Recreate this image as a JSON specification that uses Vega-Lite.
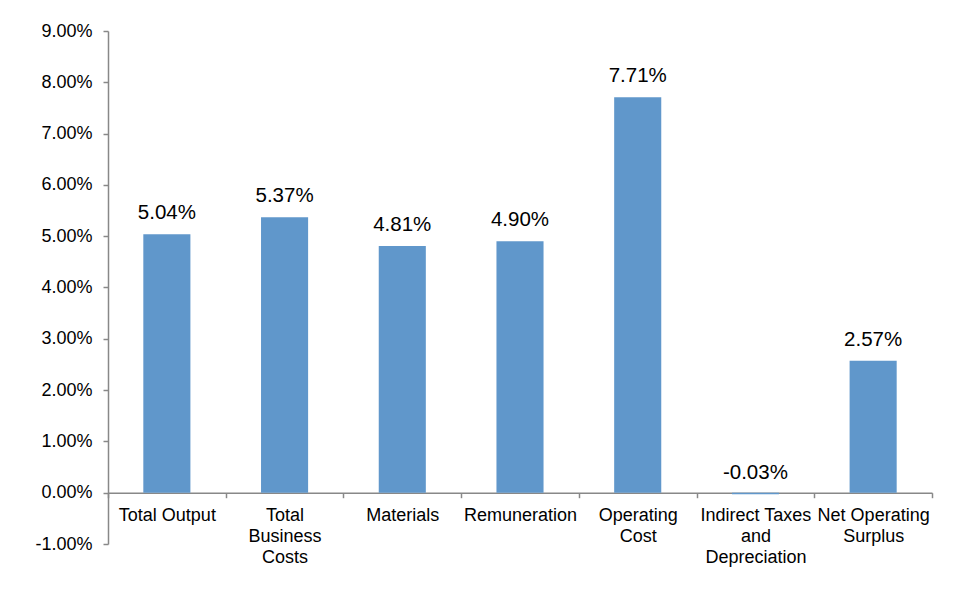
{
  "$schema": "https://vega.github.io/schema/vega-lite/v6.json",
  "width": 824,
  "height": 513,
  "autosize": {"type": "none"},
  "padding": {"left": 108, "top": 31, "right": 22, "bottom": 64},
  "background": "white",
  "config": {"view": {"stroke": null}, "font": "Liberation Sans"},
  "data": {
    "values": [
      {"category": "Total Output", "value": 0.0504},
      {"category": "Total Business Costs", "value": 0.0537},
      {"category": "Materials", "value": 0.0481},
      {"category": "Remuneration", "value": 0.049},
      {"category": "Operating Cost", "value": 0.0771},
      {"category": "Indirect Taxes and Depreciation", "value": -0.0003},
      {"category": "Net Operating Surplus", "value": 0.0257}
    ]
  },
  "encoding": {
    "x": {
      "field": "category",
      "type": "nominal",
      "sort": null,
      "scale": {"paddingInner": 0, "paddingOuter": 0},
      "axis": {
        "title": null,
        "orient": "bottom",
        "offset": -51.3,
        "domainColor": "#888888",
        "domainWidth": 1.5,
        "tickColor": "#888888",
        "tickWidth": 1.5,
        "tickSize": 5,
        "tickBand": "extent",
        "labelAngle": 0,
        "labelFontSize": 18,
        "labelColor": "black",
        "labelPadding": 9,
        "labelLineHeight": 21,
        "labelOverlap": false,
        "labelLimit": 0,
        "labelExpr": "datum.label == 'Total Business Costs' ? ['Total','Business','Costs'] : datum.label == 'Operating Cost' ? ['Operating','Cost'] : datum.label == 'Indirect Taxes and Depreciation' ? ['Indirect Taxes','and','Depreciation'] : datum.label == 'Net Operating Surplus' ? ['Net Operating','Surplus'] : datum.label"
      }
    }
  },
  "layer": [
    {
      "mark": {"type": "bar", "width": {"band": 0.4}, "color": "#6097CB"},
      "encoding": {
        "y": {
          "field": "value",
          "type": "quantitative",
          "scale": {"domain": [-0.01, 0.09], "nice": false, "zero": false},
          "axis": {
            "title": null,
            "grid": false,
            "values": [-0.01, 0, 0.01, 0.02, 0.03, 0.04, 0.05, 0.06, 0.07, 0.08, 0.09],
            "format": ".2%",
            "labelExpr": "replace(datum.label, '\u2212', '-')",
            "domainColor": "#888888",
            "domainWidth": 1.5,
            "tickColor": "#888888",
            "tickWidth": 1.5,
            "tickSize": 5,
            "labelFontSize": 18,
            "labelColor": "black",
            "labelPadding": 11
          }
        }
      }
    },
    {
      "transform": [
        {"calculate": "replace(format(datum.value, '.2%'), '\u2212', '-')", "as": "label"}
      ],
      "mark": {"type": "text", "dy": -15, "baseline": "alphabetic", "fontSize": 20.5, "color": "black"},
      "encoding": {
        "y": {"field": "value", "type": "quantitative"},
        "text": {"field": "label", "type": "nominal"}
      }
    }
  ]
}
